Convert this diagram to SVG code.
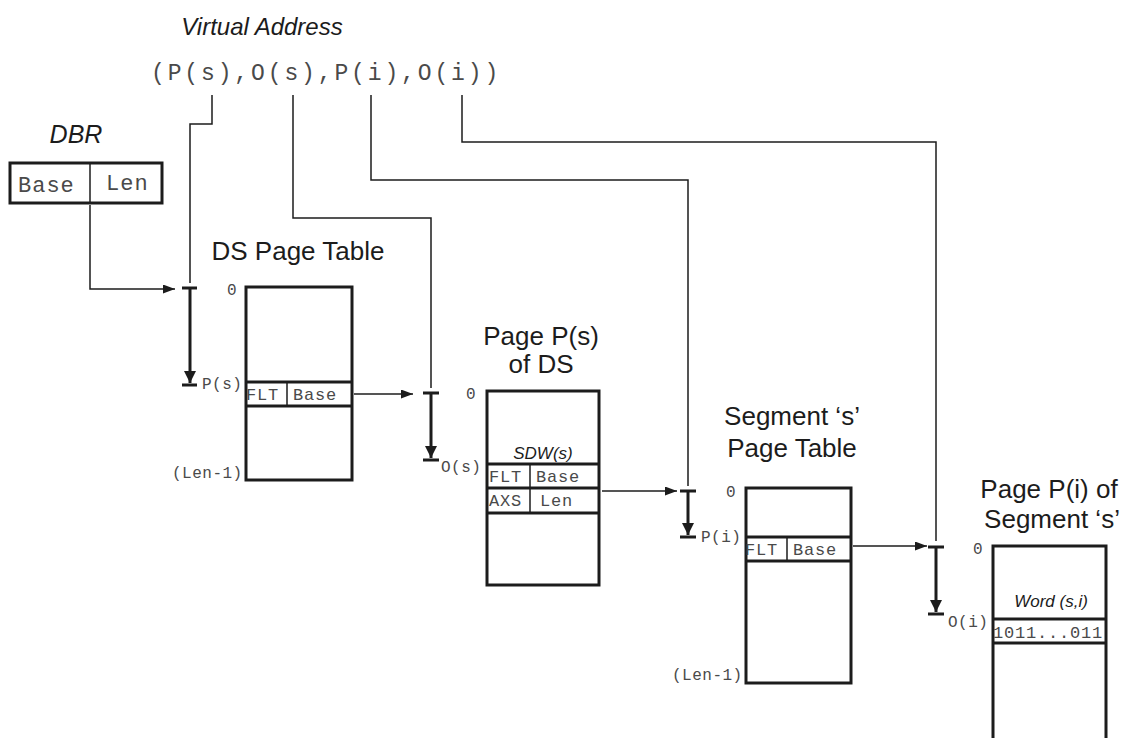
<svg xmlns="http://www.w3.org/2000/svg" width="1129" height="738" viewBox="0 0 1129 738">
<style>
.box{fill:none;stroke:#1c1c1c;stroke-width:3}
.row{fill:none;stroke:#1c1c1c;stroke-width:3}
.div{stroke:#1c1c1c;stroke-width:1.5}
.ln{fill:none;stroke:#1c1c1c;stroke-width:1.5}
.tk{fill:none;stroke:#1c1c1c;stroke-width:3}
.title{font-family:"Liberation Sans",Arial,sans-serif;font-size:26px;fill:#1c1c1c}
.ital{font-family:"Liberation Sans",Arial,sans-serif;font-style:italic;fill:#1c1c1c}
.mono{font-family:"Liberation Mono","Courier New",monospace;fill:#4a4a4a}
.cell{font-size:17px;letter-spacing:0.8px}
.lab{font-size:16px;letter-spacing:0.5px}
</style>
<defs>
<marker id="ah" markerUnits="userSpaceOnUse" markerWidth="13" markerHeight="9" refX="12" refY="4.5" orient="auto"><path d="M0,0 L12,4.5 L0,9 z" fill="#1c1c1c"/></marker>
<marker id="dh" markerUnits="userSpaceOnUse" markerWidth="13" markerHeight="13" refX="12" refY="6" orient="auto"><path d="M0,0 L12,6 L0,12 z" fill="#1c1c1c"/></marker>
</defs>
<rect width="1129" height="738" fill="#fff"/>

<g id="virtual-address">
<text class="ital" x="262" y="35" font-size="24" text-anchor="middle">Virtual Address</text>
<text class="mono" x="151" y="80" font-size="23" letter-spacing="2.87" fill="#333">(P(s),O(s),P(i),O(i))</text>
</g>

<g id="dbr">
<text class="ital" x="76" y="143" font-size="25" text-anchor="middle">DBR</text>
<rect class="box" x="10" y="163" width="152" height="40"/>
<line class="div" x1="90" y1="163" x2="90" y2="203"/>
<text class="mono" x="18" y="192" font-size="22" letter-spacing="1">Base</text>
<text class="mono" x="106" y="190" font-size="22" letter-spacing="1">Len</text>
</g>

<g id="ds-page-table">
<text class="title" x="298" y="260" text-anchor="middle">DS Page Table</text>
<rect class="box" x="246" y="287" width="106" height="193"/>
<line class="row" x1="246" y1="382" x2="352" y2="382"/>
<line class="row" x1="246" y1="406" x2="352" y2="406"/>
<line class="div" x1="287" y1="382" x2="287" y2="406"/>
<text class="mono cell" x="246" y="400">FLT</text>
<text class="mono cell" x="293" y="400">Base</text>
<text class="mono lab" x="227" y="295">0</text>
<text class="mono lab" x="202" y="389">P(s)</text>
<text class="mono lab" x="172" y="478">(Len-1)</text>
</g>

<g id="page-ps-of-ds">
<text class="title" x="541" y="345" text-anchor="middle">Page P(s)</text>
<text class="title" x="541" y="373" text-anchor="middle">of DS</text>
<rect class="box" x="487" y="391" width="112" height="194"/>
<text class="ital" x="543" y="459" font-size="17" text-anchor="middle">SDW(s)</text>
<line class="row" x1="487" y1="464" x2="599" y2="464"/>
<line class="row" x1="487" y1="488" x2="599" y2="488"/>
<line class="row" x1="487" y1="513" x2="599" y2="513"/>
<line class="div" x1="530" y1="464" x2="530" y2="513"/>
<text class="mono cell" x="489" y="482">FLT</text>
<text class="mono cell" x="536" y="482">Base</text>
<text class="mono cell" x="489" y="506">AXS</text>
<text class="mono cell" x="540" y="506">Len</text>
<text class="mono lab" x="466" y="399">0</text>
<text class="mono lab" x="441" y="472">O(s)</text>
</g>

<g id="segment-page-table">
<text class="title" x="792" y="425" text-anchor="middle">Segment ‘s’</text>
<text class="title" x="792" y="457" text-anchor="middle">Page Table</text>
<rect class="box" x="746" y="488" width="105" height="195"/>
<line class="row" x1="746" y1="537" x2="851" y2="537"/>
<line class="row" x1="746" y1="561" x2="851" y2="561"/>
<line class="div" x1="787" y1="537" x2="787" y2="561"/>
<text class="mono cell" x="745" y="555">FLT</text>
<text class="mono cell" x="793" y="555">Base</text>
<text class="mono lab" x="726" y="497">0</text>
<text class="mono lab" x="701" y="542">P(i)</text>
<text class="mono lab" x="672" y="680">(Len-1)</text>
</g>

<g id="page-pi-of-segment">
<text class="title" x="1049" y="498" text-anchor="middle">Page P(i) of</text>
<text class="title" x="1052" y="528" text-anchor="middle">Segment ‘s’</text>
<path class="box" d="M993,740 V546 H1106 V740"/>
<text class="ital" x="1051" y="607" font-size="17" text-anchor="middle">Word (s,i)</text>
<line class="row" x1="993" y1="619" x2="1106" y2="619"/>
<line class="row" x1="993" y1="643" x2="1106" y2="643"/>
<text class="mono cell" x="993" y="638">1011...011</text>
<text class="mono lab" x="973" y="554">0</text>
<text class="mono lab" x="948" y="627">O(i)</text>
</g>

<g id="connectors">
<path class="ln" d="M212,95 V124 H190 V283"/>
<path class="ln" d="M293,95 V218 H431 V388"/>
<path class="ln" d="M371,95 V180 H688 V486"/>
<path class="ln" d="M462,95 V142 H936 V541"/>
<path class="ln" d="M90,205 V289 H175" marker-end="url(#ah)"/>
<path class="ln" d="M354,394 H413" marker-end="url(#ah)"/>
<path class="ln" d="M602,491 H677" marker-end="url(#ah)"/>
<path class="ln" d="M853,546 H927" marker-end="url(#ah)"/>
<path class="tk" d="M182,288 H197 M182,385 H197"/>
<path class="tk" d="M190,288 V383" marker-end="url(#dh)"/>
<path class="tk" d="M423,393 H439 M423,460 H439"/>
<path class="tk" d="M431,393 V458" marker-end="url(#dh)"/>
<path class="tk" d="M680,491 H696 M680,537 H696"/>
<path class="tk" d="M688,491 V535" marker-end="url(#dh)"/>
<path class="tk" d="M928,547 H944 M928,614 H944"/>
<path class="tk" d="M936,547 V612" marker-end="url(#dh)"/>
</g>
</svg>
